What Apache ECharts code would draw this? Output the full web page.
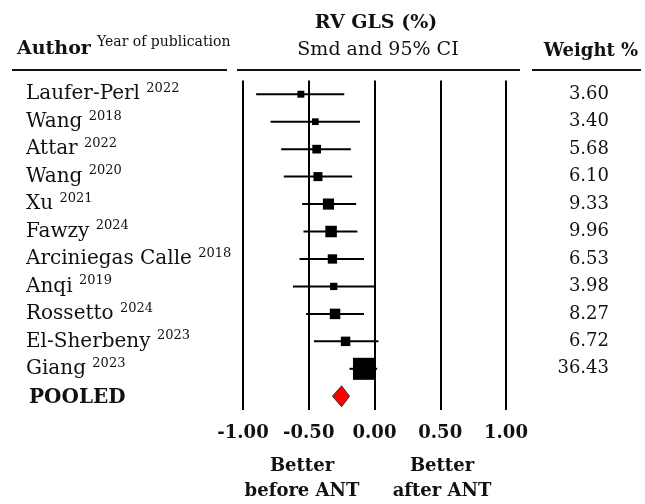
<!DOCTYPE html>
<html>
<head>
<meta charset="utf-8">
<script src="https://cdn.jsdelivr.net/npm/echarts@6/dist/echarts.min.js"></script>
<style>
html,body{margin:0;padding:0;background:#fff;}
#chart{width:645px;height:504px;}
</style>
</head>
<body>
<div id="chart"></div>
<script>
// study data, top to bottom
const authors = ['Laufer-Perl','Wang','Attar','Wang','Xu','Fawzy','Arciniegas Calle','Anqi','Rossetto','El-Sherbeny','Giang'];
const years   = ['2022','2018','2022','2020','2021','2024','2018','2019','2024','2023','2023'];
const smd     = [-0.56,-0.45,-0.44,-0.43,-0.35,-0.33,-0.32,-0.31,-0.30,-0.22,-0.08];
const ciLow   = [-0.90,-0.79,-0.71,-0.69,-0.55,-0.54,-0.57,-0.62,-0.52,-0.46,-0.19];
const ciHigh  = [-0.23,-0.11,-0.18,-0.17,-0.14,-0.13,-0.08,0.01,-0.08,0.03,0.02];
const weights = [3.60,3.40,5.68,6.10,9.33,9.96,6.53,3.98,8.27,6.72,36.43];
// pooled estimate
const pooledSmd = -0.25;
const pooledLow = -0.32;
const pooledHigh = -0.19;
const xTicks = [-1,-0.5,0,0.5,1];

const FONT = '"DejaVu Serif", serif';
const rows = authors.concat(['POOLED']);
const pooledIdx = authors.length;

const chart = echarts.init(document.getElementById('chart'));

const ciData = authors.map((a,i) => [ciLow[i], ciHigh[i], i]);
const pointData = authors.map((a,i) => [smd[i], i, weights[i]]);

const option = {
    animation:false,
    grid:{
        left:243,
        right:139,
        top:80.5,
        bottom:94
    },
    xAxis:{
        type:'value',
        min:xTicks[0],
        max:xTicks[xTicks.length-1],
        interval:0.5,
        axisLine:{show:false},
        axisTick:{show:false},
        splitLine:{show:true,lineStyle:{color:'#000',width:2}},
        axisLabel:{
            margin:14,
            color:'#111',
            fontFamily:FONT,
            fontWeight:'bold',
            fontSize:18,
            formatter:v => v.toFixed(2)
        }
    },
    yAxis:[{
        type:'category',
        data:rows,
        inverse:true,
        axisLine:{show:false},
        axisTick:{show:false},
        splitLine:{show:false},
        axisLabel:{
            align:'left',
            margin:217,
            formatter:function(value,index){
                if(index === pooledIdx) return '{p|' + value + '}';
                return '{n|' + value + ' }{y|' + years[index] + '}';
            },
            rich:{
                n:{fontFamily:FONT,fontSize:20,color:'#111',lineHeight:24},
                y:{fontFamily:FONT,fontSize:13,color:'#111',lineHeight:15,verticalAlign:'top'},
                p:{fontFamily:FONT,fontSize:20,fontWeight:'bold',color:'#111',lineHeight:24,padding:[3,0,0,3]}
            }
        }
    },{
        type:'category',
        data:weights.map(w => w.toFixed(2)).concat(['']),
        inverse:true,
        position:'right',
        axisLine:{show:false},
        axisTick:{show:false},
        splitLine:{show:false},
        axisLabel:{
            align:'right',
            margin:103,
            color:'#111',
            fontFamily:FONT,
            fontSize:18
        }
    }],
    series:[{
        type:'custom',
        data:ciData,
        encode:{x:[0,1],y:2},
        renderItem:function(params,api){
            const y = api.value(2);
            const a = api.coord([api.value(0),y]);
            const b = api.coord([api.value(1),y]);
            return {
                type:'line',
                shape:{x1:a[0],y1:a[1],x2:b[0],y2:b[1]},
                style:{stroke:'#000',lineWidth:2}
            };
        },
        z:3
    },{
        type:'scatter',
        data:pointData,
        symbol:'rect',
        symbolSize:v => 3.65*Math.sqrt(v[2]),
        itemStyle:{color:'#000',opacity:1},
        z:4
    },{
        type:'custom',
        data:[[pooledLow,pooledSmd,pooledHigh,pooledIdx]],
        encode:{x:[0,1,2],y:3},
        renderItem:function(params,api){
            const y = api.value(3);
            const h = api.size([0,1])[1]*0.38;
            const l = api.coord([api.value(0),y]);
            const c = api.coord([api.value(1),y]);
            const r = api.coord([api.value(2),y]);
            return {
                type:'polygon',
                shape:{points:[[l[0],l[1]],[c[0],c[1]-h],[r[0],r[1]],[c[0],c[1]+h]]},
                style:{fill:'#ff0000',stroke:'#333',lineWidth:1}
            };
        },
        z:5
    }],
    graphic:[
        {type:'text',left:17,top:40,style:{text:'Author',font:'bold 19px '+FONT,fill:'#111'}},
        {type:'text',left:97,top:35,style:{text:'Year of publication',font:'14px '+FONT,fill:'#111'}},
        {type:'text',x:376,y:23,style:{text:'RV GLS (%)',font:'bold 19px '+FONT,fill:'#111',textAlign:'center',textVerticalAlign:'middle'}},
        {type:'text',x:378,y:50,style:{text:'Smd and 95% CI',font:'19px '+FONT,fill:'#111',textAlign:'center',textVerticalAlign:'middle'}},
        {type:'text',x:591,y:51,style:{text:'Weight %',font:'bold 18px '+FONT,fill:'#111',textAlign:'center',textVerticalAlign:'middle'}},
        {type:'line',shape:{x1:12,y1:70,x2:227,y2:70},style:{stroke:'#111',lineWidth:2}},
        {type:'line',shape:{x1:237,y1:70,x2:520,y2:70},style:{stroke:'#111',lineWidth:2}},
        {type:'line',shape:{x1:532,y1:70,x2:641,y2:70},style:{stroke:'#111',lineWidth:2}},
        {type:'text',x:302,y:466,style:{text:'Better',font:'bold 18px '+FONT,fill:'#111',textAlign:'center',textVerticalAlign:'middle'}},
        {type:'text',x:302,y:491,style:{text:'before ANT',font:'bold 18px '+FONT,fill:'#111',textAlign:'center',textVerticalAlign:'middle'}},
        {type:'text',x:442,y:466,style:{text:'Better',font:'bold 18px '+FONT,fill:'#111',textAlign:'center',textVerticalAlign:'middle'}},
        {type:'text',x:442,y:491,style:{text:'after ANT',font:'bold 18px '+FONT,fill:'#111',textAlign:'center',textVerticalAlign:'middle'}}
    ]
};
chart.setOption(option);
</script>
</body>
</html>
